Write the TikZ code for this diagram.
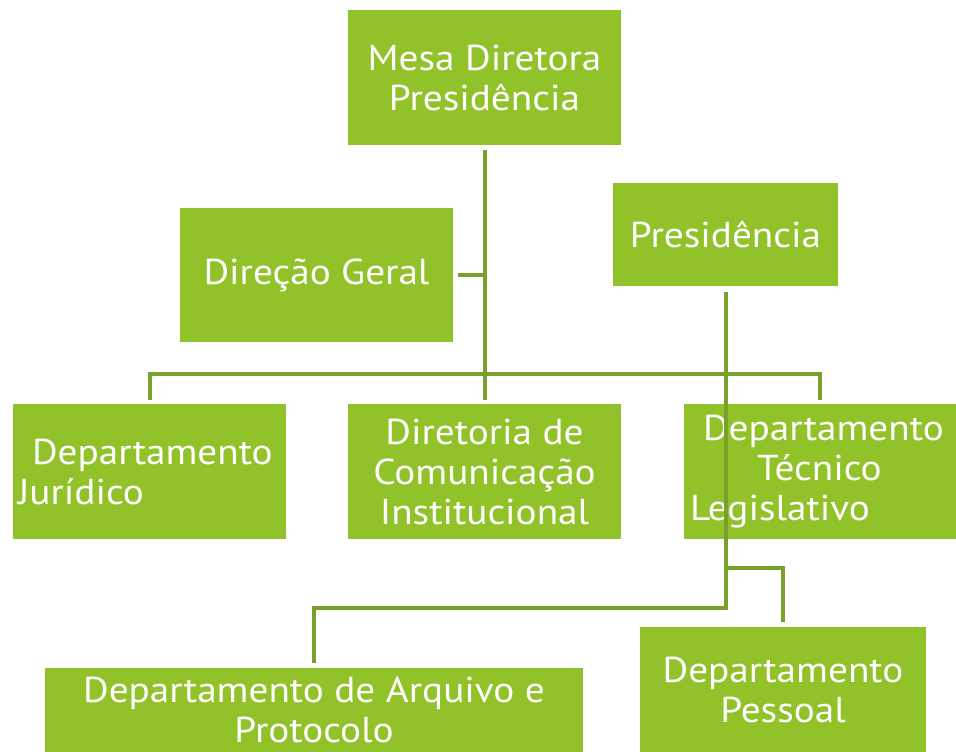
\documentclass[tikz,border=0pt]{standalone}
\usepackage{fontspec}
\setmainfont[FakeStretch=1.09]{PT Sans}
\usepackage{xcolor}
\usepackage{tikz}
\usetikzlibrary{positioning}

\definecolor{boxgreen}{HTML}{92C229}
\definecolor{linegreen}{HTML}{77A12B}

\tikzset{
  orgbox/.style={fill=boxgreen, text=white, inner sep=0pt, align=center,
    font=\fontsize{36}{40}\selectfont},
  orgline/.style={draw=linegreen, line width=4pt}
}

\begin{document}
\begin{tikzpicture}[x=1pt, y=-1pt]
\useasboundingbox (0,0) rectangle (956,752);
\clip (0,0) rectangle (956,752);
% boxes
\node[orgbox, minimum width=273pt, minimum height=135pt] (mesa) at (484.5,77.5) {Mesa Diretora\\Presidência};
\node[orgbox, minimum width=273pt, minimum height=134pt] (geral) at (316.5,275) {Direção Geral};
\node[orgbox, minimum width=225pt, minimum height=103pt] (pres) at (725.5,234.5) {Presidência};
\node[orgbox, minimum width=273pt, minimum height=135pt, inner xsep=5pt, text width=263pt, align=left] (jur) at (149.5,471.5) {\hspace*{14pt}Departamento\\Jurídico};
\node[orgbox, minimum width=273pt, minimum height=135pt] (dcom) at (484.5,471.5) {Diretoria de\\Comunicação\\Institucional};
\node[orgbox, minimum width=272pt, minimum height=135pt, inner xsep=6pt, text width=260pt, align=left] (tec) at (820,471.5) {\hspace*{13pt}Departamento\\\hspace*{67pt}Técnico\\Legislativo};
\node[orgbox, minimum width=538pt, minimum height=84pt] (arq) at (314,710) {Departamento de Arquivo e\\Protocolo};
\node[orgbox, minimum width=286pt, minimum height=126pt] (pes) at (783,690) {Departamento\\Pessoal};
% connectors
\coordinate (bar) at (485,374);
\draw[orgline] ([yshift=-5pt]mesa.south) -- ([yshift=4pt]dcom.north);
\draw[orgline] ([xshift=5pt]geral.east) -- (geral.east -| mesa.south);
\draw[orgline] ([yshift=4pt]jur.north) |- (bar) -| ([yshift=4pt]tec.north);
\draw[orgline] ([yshift=-6pt]pres.south) |- ([yshift=60pt]arq.north) -- ([yshift=5pt]arq.north);
\draw[orgline] ([yshift=-282pt]pres.south) -| ([yshift=5pt]pes.north);
\end{tikzpicture}
\end{document}
